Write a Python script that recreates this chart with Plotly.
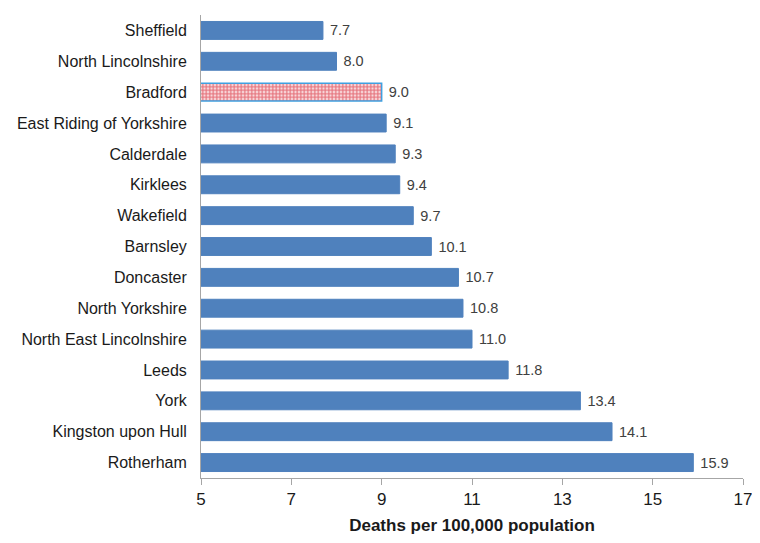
import plotly.graph_objects as go

areas = ["Sheffield", "North Lincolnshire", "Bradford", "East Riding of Yorkshire",
         "Calderdale", "Kirklees", "Wakefield", "Barnsley", "Doncaster",
         "North Yorkshire", "North East Lincolnshire", "Leeds", "York",
         "Kingston upon Hull", "Rotherham"]
rates = [7.7, 8.0, 9.0, 9.1, 9.3, 9.4, 9.7, 10.1, 10.7, 10.8, 11.0, 11.8, 13.4, 14.1, 15.9]
highlight = "Bradford"

blue = "#4F81BD"
FONT = "Liberation Sans, Arial"

other_y = [a for a in areas if a != highlight]
other_x = [r for a, r in zip(areas, rates) if a != highlight]
hl_y = [a for a in areas if a == highlight]
hl_x = [r for a, r in zip(areas, rates) if a == highlight]

fig = go.Figure()
fig.add_trace(go.Bar(
    x=other_x, y=other_y, orientation="h", width=0.58,
    marker=dict(color=blue, line=dict(color=blue, width=1)),
    texttemplate=" %{x:.1f}", textposition="outside", cliponaxis=False,
    textfont=dict(family=FONT, size=14.5, color="#404040"),
))
fig.add_trace(go.Bar(
    x=hl_x, y=hl_y, orientation="h", width=0.58,
    marker=dict(color="white", line=dict(color="#3FA0E0", width=1.5),
                pattern=dict(shape=".", fgcolor="#D00010", bgcolor="white",
                             size=3.5, solidity=0.75, fillmode="overlay")),
    texttemplate=" %{x:.1f}", textposition="outside", cliponaxis=False,
    textfont=dict(family=FONT, size=14.5, color="#404040"),
))

fig.update_layout(
    width=752, height=527,
    margin=dict(l=193, r=17, t=7, b=57),
    plot_bgcolor="white", paper_bgcolor="white",
    showlegend=False, barmode="overlay",
    font=dict(family=FONT, color="#1a1a1a"),
    xaxis=dict(range=[5, 17], tickvals=[5, 7, 9, 11, 13, 15, 17], showgrid=False,
               zeroline=False, showline=True, linecolor="#A6A6A6", linewidth=1,
               ticks="outside", tickcolor="#A6A6A6", ticklen=6, automargin=False,
               ticklabeloverflow="allow",
               tickfont=dict(size=17, color="#1a1a1a"),
               title=dict(text="<b>Deaths per 100,000 population</b>",
                          font=dict(size=17, color="#1a1a1a"), standoff=10)),
    yaxis=dict(categoryorder="array", categoryarray=areas, autorange="reversed",
               showgrid=False, showline=True, linecolor="#A6A6A6", linewidth=1,
               ticks="", tickfont=dict(size=16, color="#1a1a1a"), ticklabelstandoff=10),
)

fig.write_html("out.html")
